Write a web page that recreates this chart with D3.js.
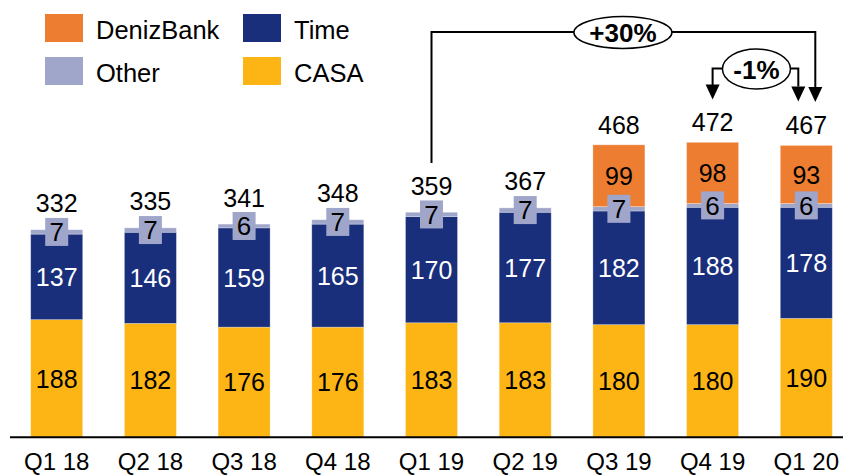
<!DOCTYPE html>
<html>
<head>
<meta charset="utf-8">
<script src="https://cdn.jsdelivr.net/npm/d3@7"></script>
<style>
  html, body { margin: 0; padding: 0; background: #fff; }
  svg { display: block; font-family: Arial, "Liberation Sans", Helvetica, sans-serif; }
</style>
</head>
<body>
<svg id="chart" width="843" height="476"></svg>
<script>
const categories = ["Q1 18","Q2 18","Q3 18","Q4 18","Q1 19","Q2 19","Q3 19","Q4 19","Q1 20"];
const casa   = [188,182,176,176,183,183,180,180,190];
const time   = [137,146,159,165,170,177,182,188,178];
const other  = [7,7,6,7,7,7,7,6,6];
const deniz  = [0,0,0,0,0,0,99,98,93];
const totals = [332,335,341,348,359,367,468,472,467];
const seriesNames = {casa: "CASA", time: "Time", other: "Other", deniz: "DenizBank"};
const growthLabels = ["+30%", "-1%"];

const colors = {casa: "#FDB515", time: "#1A2F7C", other: "#A0A6CA", deniz: "#ED7D31"};
const labelColors = {casa: "#000", time: "#fff", other: "#000", deniz: "#000"};

const svg = d3.select("#chart");
const rows = categories.map((c, i) => ({cat: c, casa: casa[i], time: time[i], other: other[i], deniz: deniz[i], total: totals[i]}));
const keys = ["casa", "time", "other", "deniz"];
const stack = d3.stack().keys(keys)(rows);

const x = d3.scaleBand().domain(categories).range([-11, 874]).paddingInner(0.445).paddingOuter(0.445);
const y = d3.scaleLinear().domain([0, 700]).range([437, 0]);
const bw = x.bandwidth();
const cx = c => x(c) + bw / 2;

// bars
const layers = svg.append("g").selectAll("g").data(stack).join("g").attr("fill", d => colors[d.key]);
layers.selectAll("rect").data(d => d.map(v => ({key: d.key, v}))).join("rect")
  .attr("x", d => x(d.v.data.cat))
  .attr("width", bw)
  .attr("y", d => y(d.v[1]))
  .attr("height", d => Math.max(0, y(d.v[0]) - y(d.v[1])))
  .attr("stroke", "rgba(255,255,255,0.35)")
  .attr("stroke-width", 0.8);

// segment labels
const labG = svg.append("g").attr("font-size", 25).attr("text-anchor", "middle");
stack.forEach(layer => {
  layer.forEach(v => {
    const val = v.data[layer.key];
    if (!val) return;
    const mid = (y(v[0]) + y(v[1])) / 2;
    const c = cx(v.data.cat);
    if (layer.key === "other") {
      labG.append("rect").attr("x", c - 11.5).attr("y", mid - 14).attr("width", 23).attr("height", 28)
        .attr("fill", colors.other);
    }
    labG.append("text").attr("x", c).attr("y", mid + 9.3)
      .attr("font-size", layer.key === "other" ? 26 : 25)
      .attr("fill", labelColors[layer.key]).text(val);
  });
});

// totals
svg.append("g").attr("font-size", 25).attr("text-anchor", "middle")
  .selectAll("text").data(rows).join("text")
  .attr("x", d => cx(d.cat))
  .attr("y", d => y(d.casa + d.time + d.other + d.deniz) - (d.deniz ? 11 : 17.5))
  .text(d => d.total);

// axis
svg.append("line").attr("x1", 10).attr("x2", 843).attr("y1", y(0) + 0.3).attr("y2", y(0) + 0.3)
  .attr("stroke", "#000").attr("stroke-width", 2);
const xAxis = d3.axisBottom(x).tickSize(0).tickPadding(0);
const ax = svg.append("g").attr("transform", `translate(0,${y(0)})`).call(xAxis);
ax.select(".domain").remove();
ax.selectAll("text").attr("font-size", 24).attr("font-family", "Arial, 'Liberation Sans', sans-serif")
  .attr("fill", "#000").attr("dy", null).attr("y", 33);

// legend
const legend = [
  {key: "deniz", x: 45, y: 14}, {key: "time", x: 243, y: 14},
  {key: "other", x: 45, y: 57}, {key: "casa", x: 243, y: 57}
];
const lg = svg.append("g");
legend.forEach(l => {
  lg.append("rect").attr("x", l.x).attr("y", l.y).attr("width", 38).attr("height", 28).attr("fill", colors[l.key]);
  lg.append("text").attr("x", l.x + 51).attr("y", l.y + 24.5).attr("font-size", 25.5).text(seriesNames[l.key]);
});

// annotations
const ann = svg.append("g").attr("fill", "none").attr("stroke", "#000").attr("stroke-width", 2);
function arrowHead(xc, tip) {
  svg.append("path").attr("d", `M${xc - 7},${tip - 15} L${xc + 7},${tip - 15} L${xc},${tip} Z`).attr("fill", "#000");
}
// +30%
const xa = cx("Q1 19"), xb = cx("Q1 20") + 9;
const topY = 32;
ann.append("path").attr("d", `M${xa},${y(totals[4]) - 50} V${topY} H${xb} V${topY + 56}`);
arrowHead(xb, topY + 70);
const e1x = cx("Q3 19") + 4;
svg.append("ellipse").attr("cx", e1x).attr("cy", topY + 0.5).attr("rx", 49).attr("ry", 16)
  .attr("fill", "#fff").attr("stroke", "#000").attr("stroke-width", 1.5);
svg.append("text").attr("x", e1x).attr("y", topY + 10).attr("text-anchor", "middle")
  .attr("font-size", 26).attr("font-weight", "bold").text(growthLabels[0]);
// -1%
const xl = cx("Q4 19"), xr = cx("Q1 20") - 8;
const midY = 68.5;
ann.append("path").attr("d", `M${xl},${midY + 18} V${midY} H${xr} V${midY + 18}`);
arrowHead(xl, 99.5);
arrowHead(xr, 101.5);
const e2x = (xl + xr) / 2 + 1;
svg.append("ellipse").attr("cx", e2x).attr("cy", midY + 0.5).attr("rx", 34).attr("ry", 20)
  .attr("fill", "#fff").attr("stroke", "#000").attr("stroke-width", 1.5);
svg.append("text").attr("x", e2x).attr("y", midY + 10).attr("text-anchor", "middle")
  .attr("font-size", 26).attr("font-weight", "bold").text(growthLabels[1]);
</script>
</body>
</html>
